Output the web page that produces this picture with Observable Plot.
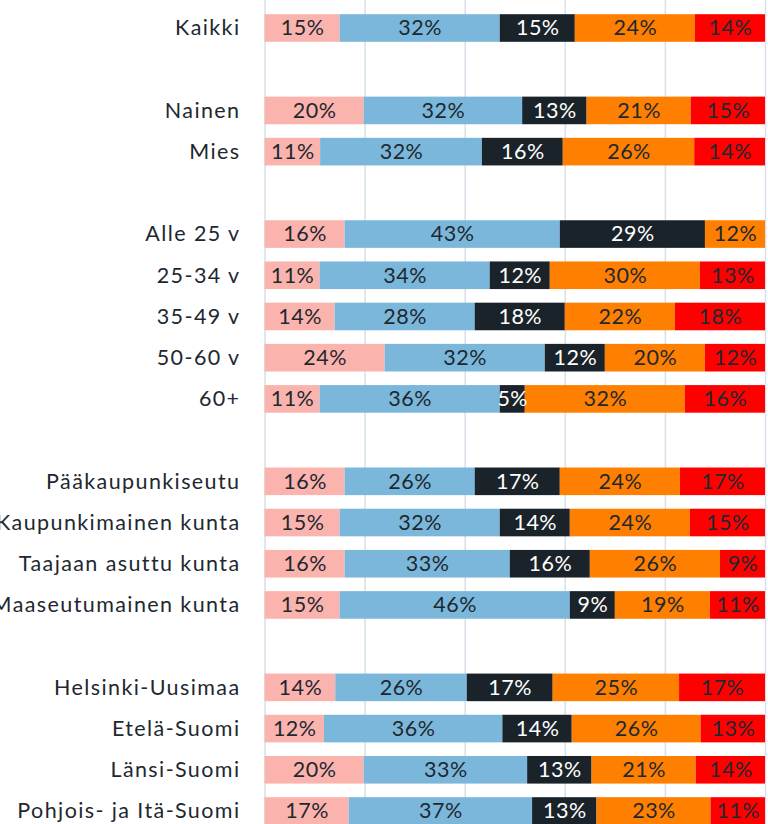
<!DOCTYPE html>
<html>
<head>
<meta charset="utf-8">
<script src="https://cdn.jsdelivr.net/npm/d3@7"></script>
<script src="https://cdn.jsdelivr.net/npm/@observablehq/plot@0.6"></script>
<style>
  html, body { margin: 0; padding: 0; background: #fff; overflow: hidden; }
  #chart svg { overflow: visible; display: block; }
</style>
</head>
<body>
<div id="chart"></div>
<script>
// Row labels (empty strings are spacer rows between groups)
const rows = [
  "Kaikki", "",
  "Nainen", "Mies", "",
  "Alle 25 v", "25-34 v", "35-49 v", "50-60 v", "60+", "",
  "Pääkaupunkiseutu", "Kaupunkimainen kunta", "Taajaan asuttu kunta", "Maaseutumainen kunta", "",
  "Helsinki-Uusimaa", "Etelä-Suomi", "Länsi-Suomi", "Pohjois- ja Itä-Suomi"
];
const segments = ["s1", "s2", "s3", "s4", "s5"];
const segmentColors = ["#fbb3ae", "#7bb7da", "#1b232a", "#ff7f00", "#ff0000"];

const kaikki = [15, 32, 15, 24, 14];
const nainen = [20, 32, 13, 21, 15];
const mies = [11, 32, 16, 26, 14];
const alle25 = [16, 43, 29, 12, 0];
const v25_34 = [11, 34, 12, 30, 13];
const v35_49 = [14, 28, 18, 22, 18];
const v50_60 = [24, 32, 12, 20, 12];
const v60 = [11, 36, 5, 32, 16];
const paakaupunki = [16, 26, 17, 24, 17];
const kaupunkimainen = [15, 32, 14, 24, 15];
const taajaan = [16, 33, 16, 26, 9];
const maaseutu = [15, 46, 9, 19, 11];
const helsinki = [14, 26, 17, 25, 17];
const etela = [12, 36, 14, 26, 13];
const lansi = [20, 33, 13, 21, 14];
const pohjois = [17, 37, 13, 23, 11];

const rowValues = [
  ["Kaikki", kaikki], ["Nainen", nainen], ["Mies", mies],
  ["Alle 25 v", alle25], ["25-34 v", v25_34], ["35-49 v", v35_49], ["50-60 v", v50_60], ["60+", v60],
  ["Pääkaupunkiseutu", paakaupunki], ["Kaupunkimainen kunta", kaupunkimainen],
  ["Taajaan asuttu kunta", taajaan], ["Maaseutumainen kunta", maaseutu],
  ["Helsinki-Uusimaa", helsinki], ["Etelä-Suomi", etela], ["Länsi-Suomi", lansi], ["Pohjois- ja Itä-Suomi", pohjois]
];
const gridTicks = [0, 0.2, 0.4, 0.6, 0.8, 1];

// unique keys for the band domain (spacers get unique ids)
let gap = 0;
const rowKeys = rows.map(r => r === "" ? `__gap${gap++}` : r);

const data = [];
for (const [name, vals] of rowValues) {
  vals.forEach((v, i) => {
    if (v > 0) data.push({row: name, seg: segments[i], value: v});
  });
}

const font = "Lato, 'Noto Sans', sans-serif";

const chart = Plot.plot({
  width: 768,
  height: 824,
  marginLeft: 264,
  marginRight: 3,
  marginTop: 0,
  marginBottom: 0,
  style: {fontFamily: font, background: "#fff", overflow: "visible"},
  x: {domain: [0, 1], range: [264.5, 765], axis: null},
  y: {
    domain: rowKeys,
    range: [0.6, 838.4],
    padding: 0.33,
    round: false,
    label: null,
    axis: null
  },
  color: {domain: segments, range: segmentColors},
  marks: [
    Plot.ruleX(gridTicks, {stroke: "#d6e0e9", strokeWidth: 1.5}),
    Plot.barX(data, Plot.stackX({
      x: "value", y: "row", fill: "seg", offset: "normalize", order: null
    })),
    Plot.text(data, Plot.stackX({
      x: "value", y: "row", z: "seg", offset: "normalize", order: null,
      text: d => `${d.value}%`,
      fill: d => d.seg === "s3" ? "#ffffff" : "#1e2830",
      fontSize: 21.5,
      fontFamily: font
    })),
    Plot.axisY({
      tickSize: 0, tickPadding: 24, fontSize: 21.5, fontFamily: font,
      color: "#1e2830", label: null,
      tickFormat: d => d.startsWith("__gap") ? "" : d
    })
  ]
});
chart.querySelectorAll("[aria-label='y-axis tick label'] text").forEach(t => t.setAttribute("letter-spacing", "1.4"));
chart.querySelectorAll("[aria-label='text'] text").forEach(t => t.setAttribute("letter-spacing", "0.5"));
document.getElementById("chart").appendChild(chart);
</script>
</body>
</html>
